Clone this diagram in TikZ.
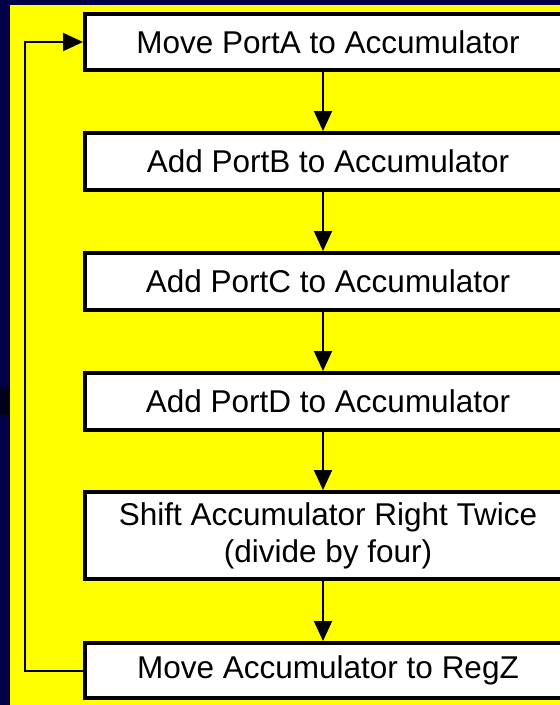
\documentclass[tikz,border=0pt]{standalone}
\usepackage{fontspec}
\setmainfont{Liberation Sans}
\usetikzlibrary{arrows.meta}
\definecolor{navy}{RGB}{4,0,72}
\definecolor{navydark}{RGB}{2,0,28}
\definecolor{slideyellow}{RGB}{255,255,0}
\begin{document}
\begin{tikzpicture}[x=1pt,y=-1pt,
  stepbox/.style={draw=black, fill=white, line width=4pt, rectangle,
    minimum width=486pt, minimum height=57pt, inner sep=0pt,
    font=\fontsize{31.5}{37}\selectfont, align=center},
  flowarrow/.style={draw=black, line width=2pt,
    -{Triangle[length=20pt,width=18pt]}}]
\useasboundingbox (0,0) rectangle (560,705);
\clip (0,0) rectangle (560,705);
\fill[navy] (0,0) rectangle (560,705);
\fill[navydark] (0,387) rectangle (10,415);
\fill[slideyellow] (10,5) rectangle (560,705);

\node[stepbox, minimum height=56pt] (b1) at (328,42) {Move PortA to Accumulator};
\node[stepbox] (b2) at (328,161.5) {Add PortB to Accumulator};
\node[stepbox] (b3) at (328,281.5) {Add PortC to Accumulator};
\node[stepbox] (b4) at (328,401.5) {Add PortD to Accumulator};
\node[stepbox, minimum height=87pt] (b5) at (328,535.5) {Shift Accumulator Right Twice\\(divide by four)};
\node[stepbox, minimum height=55pt] (b6) at (328,670.5) {Move Accumulator to RegZ};

\coordinate (ax) at (323,0);
\coordinate (fbx) at (25,0);

\draw[flowarrow] (b1.south -| ax) -- (b2.north -| ax);
\draw[flowarrow] (b2.south -| ax) -- (b3.north -| ax);
\draw[flowarrow] (b3.south -| ax) -- (b4.north -| ax);
\draw[flowarrow] (b4.south -| ax) -- (b5.north -| ax);
\draw[flowarrow] (b5.south -| ax) -- (b6.north -| ax);
\draw[flowarrow] (b6.west) -- (b6.west -| fbx) |- (b1.west);
\end{tikzpicture}
\end{document}
